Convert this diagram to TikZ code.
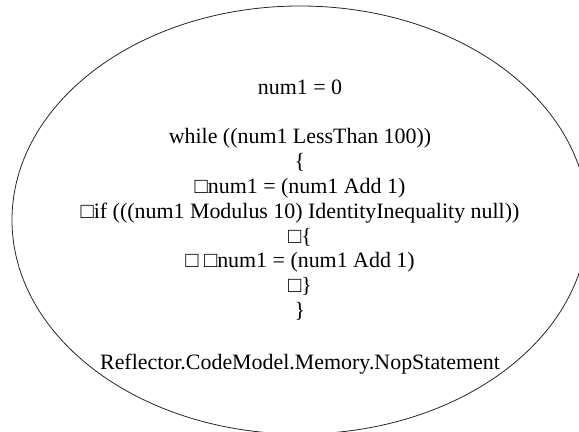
\documentclass[tikz,border=0pt]{standalone}
\usepackage{fontspec}
\setmainfont{Liberation Serif}
\usepackage{tikz}
\newcommand*{\ellcx}{300}
\newcommand*{\ellcy}{220}
\newcommand*{\ellrx}{288bp}
\newcommand*{\ellry}{214bp}
\newcommand*{\pagew}{579}
\newcommand*{\pageh}{431}
\newcommand*{\lnskip}{24.9bp}
\tikzset{
    stmt/.style  = {align=center, inner sep=0pt, font=\fontsize{22}{24.9}\selectfont},
    outline/.style = {draw=black!85, line width=0.8bp}
}

\begin{document}
\begin{tikzpicture}[x=1bp, y=-1bp]
    \useasboundingbox (0,0) rectangle (\pagew,\pageh);
    \clip (0,0) rectangle (\pagew,\pageh);
        \draw [outline] (\ellcx,\ellcy) ellipse [x radius=\ellrx, y radius=\ellry];
        \node [stmt] (body) at (\ellcx,200) {num1 = 0\\[\lnskip]
            while ((num1 LessThan 100))\\
            \{\\
            □num1 = (num1 Add 1)\\
            □if (((num1 Modulus 10) IdentityInequality null))\\
            □\{\\
            □ □num1 = (num1 Add 1)\\
            □\}\\
            \}};
        \node [stmt] (kind) at (\ellcx,364) {Reflector.CodeModel.Memory.NopStatement};
\end{tikzpicture}
\end{document}
